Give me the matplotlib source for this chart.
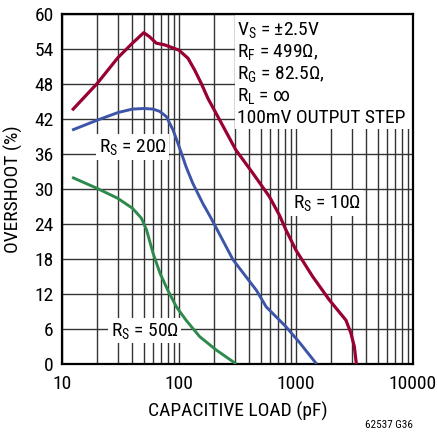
import matplotlib
matplotlib.use("Agg")
import matplotlib.pyplot as plt
from matplotlib.patches import Rectangle

plt.rcParams['font.family'] = ['Roboto Condensed', 'DejaVu Sans']
plt.rcParams['mathtext.default'] = 'regular'

# curves (capacitive load in pF, overshoot in %)
rs10_x = [12.2, 20, 30, 40, 50, 56, 64, 75.5, 100, 119.5, 136, 155, 177, 215, 306, 428, 592,
          722, 820, 1000, 1387, 1924, 2673, 2946, 3150, 3280]
rs10_y = [43.5, 48.1, 52.5, 55.0, 56.8, 56.1, 55.0, 54.7, 53.8, 52.4, 50.4, 48.1, 45.5, 42.4,
          36.7, 32.7, 28.7, 25.5, 23.0, 19.5, 15.0, 11.0, 7.5, 5.3, 3.0, 0]

rs20_x = [12.2, 20, 30, 40, 50, 60, 68.5, 78, 89, 98, 105, 115, 131, 160, 188, 289, 460, 556,
          820, 1070, 1500]
rs20_y = [40.1, 41.8, 43.1, 43.7, 43.8, 43.7, 43.3, 42.4, 40.1, 37.8, 36.1, 33.8, 31.0, 27.5,
          25.0, 17.9, 12.6, 9.8, 6.4, 3.7, 0]

rs50_x = [12.2, 20, 30, 40, 47.7, 52.8, 60, 69, 80, 95, 115, 150, 208, 309]
rs50_y = [32.0, 30.1, 28.4, 26.7, 25.0, 23.0, 19.0, 15.5, 12.7, 9.8, 7.5, 4.7, 2.4, 0]

yticks = list(range(0, 61, 6))
xticks = [10, 100, 1000, 10000]
cond_lines = ["V$_S$ = \u00b12.5V", "R$_F$ = 499\u03a9,", "R$_G$ = 82.5\u03a9,",
              "R$_L$ = \u221e", "100mV OUTPUT STEP"]

fig = plt.figure(figsize=(4.37, 4.32), dpi=100)
ax = fig.add_axes([62 / 437, 1 - 364 / 432, 351 / 437, 350 / 432])

ax.set_xscale('log')
ax.set_xlim(10, 10000)
ax.set_ylim(0, 60)
ax.set_yticks(yticks)
ax.set_xticks(xticks)
ax.set_xticklabels([str(t) for t in xticks])
ax.minorticks_on()
ax.tick_params(which='both', length=0, labelsize=14, pad=8)
ax.tick_params(axis='y', pad=6)
ax.xaxis.set_minor_formatter(plt.NullFormatter())
ax.yaxis.set_minor_locator(plt.NullLocator())
ax.grid(True, which='both', color='#333333', lw=1.0)
ax.set_axisbelow(True)
for s in ax.spines.values():
    s.set_linewidth(1.6)
    s.set_color('black')

ax.plot(rs10_x, rs10_y, color='#990033', lw=2.3, zorder=4, solid_capstyle='butt')
ax.plot(rs20_x, rs20_y, color='#3c55a8', lw=2.1, zorder=4, solid_capstyle='butt')
ax.plot(rs50_x, rs50_y, color='#2e8a4c', lw=2.1, zorder=4, solid_capstyle='butt')

box = dict(facecolor='white', edgecolor='none', pad=2)
ax.text(40.3, 37.2, "R$_S$ = 20\u03a9", fontsize=14, ha='center', va='center', bbox=box, zorder=3)
ax.text(51, 5.7, "R$_S$ = 50\u03a9", fontsize=14, ha='center', va='center', bbox=box, zorder=3)
ax.text(1833, 27.6, "R$_S$ = 10\u03a9", fontsize=14, ha='center', va='center', bbox=box, zorder=3)

ax.add_patch(Rectangle((0.493, 0.67), 0.507, 0.33, transform=ax.transAxes,
                       facecolor='white', edgecolor='none', zorder=2.5))
for i, line in enumerate(cond_lines):
    ax.text(0.499, 0.955 - i * 0.063, line, transform=ax.transAxes, fontsize=14,
            ha='left', va='center', zorder=3)

ax.set_xlabel("CAPACITIVE LOAD (pF)", fontsize=14, labelpad=6)
ax.set_ylabel("OVERSHOOT (%)", fontsize=14, labelpad=8)
fig.text(413 / 437, 1 - 425 / 432, "62537 G36", fontsize=8, ha='right', va='center')

fig.savefig("out.png", dpi=100)
